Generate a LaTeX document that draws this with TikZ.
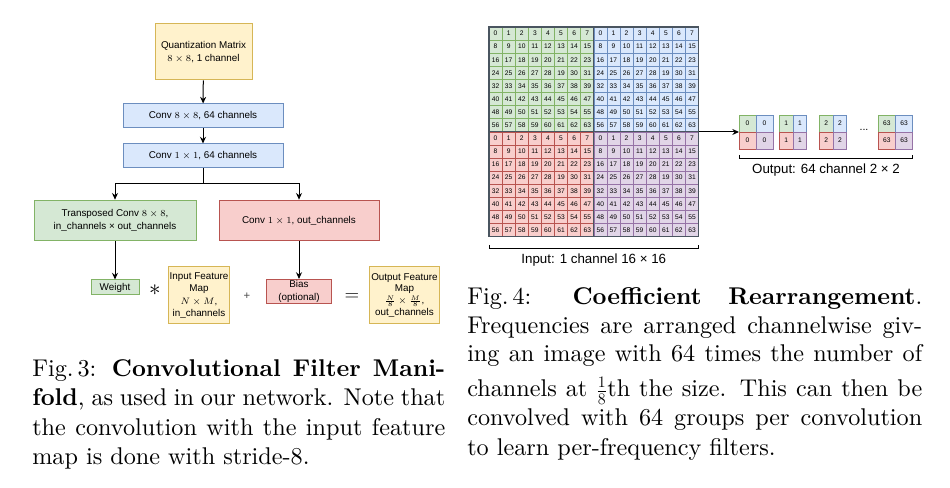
\documentclass[tikz,border=0pt]{standalone}
\usepackage{fontspec}
\setmainfont{lmroman10-regular.otf}[BoldFont=lmroman10-bold.otf, ItalicFont=lmroman10-italic.otf, BoldItalicFont=lmroman10-bolditalic.otf]
\setsansfont{Liberation Sans}
\usetikzlibrary{arrows.meta}
\definecolor{yfill}{HTML}{FFF2CC}\definecolor{yline}{HTML}{D6B656}
\definecolor{bfill}{HTML}{DAE8FC}\definecolor{bline}{HTML}{6C8EBF}
\definecolor{gfill}{HTML}{D5E8D4}\definecolor{gline}{HTML}{82B366}
\definecolor{rfill}{HTML}{F8CECC}\definecolor{rline}{HTML}{B85450}
\definecolor{pfill}{HTML}{E1D5E7}\definecolor{pline}{HTML}{9673A6}
\definecolor{quadline}{HTML}{4A5560}
\newcommand{\capfont}{\fontsize{18.15}{21.8}\selectfont}
\begin{document}
\begin{tikzpicture}[x=0.75pt,y=-0.75pt,
  box/.style={draw, line width=0.75pt, align=center, inner sep=1pt,
    font=\sffamily\fontsize{7.4}{9.2}\selectfont},
  ybox/.style={box, fill=yfill, draw=yline},
  bbox/.style={box, fill=bfill, draw=bline},
  gbox/.style={box, fill=gfill, draw=gline},
  rbox/.style={box, fill=rfill, draw=rline},
  arr/.style={line width=0.75pt, -{Stealth[length=5pt,width=4.5pt]}},
  conn/.style={line width=0.75pt},
  gcell/.style={draw, line width=0.4pt, minimum width=9.825pt, minimum height=9.825pt,
    inner sep=0pt, font=\sffamily\fontsize{5}{6}\selectfont},
  ocell/.style={draw, line width=0.5pt, minimum height=12.75pt,
    inner sep=0pt, font=\sffamily\fontsize{5}{6}\selectfont},
  lbl/.style={inner sep=0pt, font=\sffamily\fontsize{10}{12}\selectfont},
  capl/.style={anchor=base west, inner sep=0pt, font=\capfont},
  brk/.style={line width=0.6pt}
]
\useasboundingbox (0,0) rectangle (950,488);

% ---------------- left diagram ----------------
\node[ybox, minimum width=72.75pt, minimum height=42pt] (quant) at (203.5,52)
  {Quantization Matrix\\$8\times 8$, 1 channel};
\node[bbox, minimum width=120pt, minimum height=18pt] (conv8) at (203,116)
  {Conv $8\times 8$, 64 channels};
\node[bbox, minimum width=120pt, minimum height=18pt] (conv1) at (203,156)
  {Conv $1\times 1$, 64 channels};
\node[gbox, minimum width=121.5pt, minimum height=30.5pt] (tconv) at (115,220.5)
  {Transposed Conv $8\times 8$,\\in\_channels × out\_channels};
\node[rbox, minimum width=120pt, minimum height=30.5pt] (c1out) at (299,220.5)
  {Conv $1\times 1$, out\_channels};
\node[gbox, minimum width=36pt, minimum height=11.25pt] (weight) at (115,287.5) {Weight};
\node[ybox, minimum width=45pt, minimum height=42.75pt] (ifm) at (199,295.5)
  {Input Feature\\Map\\$N\times M$,\\in\_channels};
\node[rbox, minimum width=48.75pt, minimum height=17.25pt] (bias) at (299,291.5)
  {Bias\\(optional)};
\node[ybox, minimum width=51.75pt, minimum height=42.75pt, font=\sffamily\fontsize{7.4}{8.6}\selectfont] (ofm) at (404.5,295.5)
  {Output Feature\\Map\\[0.5pt]$\frac{N}{8}\times\frac{M}{8}$,\\[0.5pt]out\_channels};
\node[inner sep=0pt, font=\fontsize{16}{16}\selectfont] (star) at (155,290) {$\ast$};
\node[inner sep=0pt, text=black!70, font=\sffamily\fontsize{8.5}{9}\selectfont] (plus) at (247,296.5) {+};
\node[inner sep=0pt, font=\fontsize{15}{15}\selectfont] (eq) at (352,297) {$=$};

\coordinate (split) at (203,184);
\draw[arr] (quant) -- (conv8);
\draw[arr] (conv8) -- (conv1);
\draw[conn] (conv1.south) -- (split);
\draw[arr] (split) -| (tconv.north);
\draw[arr] (split) -| (c1out.north);
\draw[arr] (tconv) -- (weight);
\draw[arr] (c1out) -- (bias);

% ---------------- right diagram: input grid ----------------
\foreach \qx/\qy/\fc/\dc in {0/0/gfill/gline, 1/0/bfill/bline, 0/1/rfill/rline, 1/1/pfill/pline} {
  \foreach \r in {0,...,7} {
    \foreach \c in {0,...,7} {
      \pgfmathtruncatemacro\cellval{\r*8+\c}
      \ifnum\cellval=29 \def\cellval{19}\fi
      \node[gcell, fill=\fc, draw=\dc] (g\qx\qy-\r-\c)
        at ({489+(\qx*8+\c+0.5)*13.1},{27+(\qy*8+\r+0.5)*13.1}) {\cellval};
    }
  }
}
\foreach \qx/\qy in {0/0,1/0,0/1,1/1} {
  \draw[line width=0.8pt, draw=quadline] ({489+\qx*104.8},{27+\qy*104.8}) rectangle ++(104.8,104.8);
}

% ---------------- output blocks ----------------
\foreach \i/\x/\w/\val in {0/739/17/0, 1/779.3/13.7/1, 2/819.3/13.7/2, 3/878.3/17.2/63} {
  \pgfmathsetmacro\cw{\w*0.75}
  \node[ocell, minimum width=\cw pt, fill=gfill, draw=gline] (o\i-tl) at ({\x+0.5*\w},123.5) {\val};
  \node[ocell, minimum width=\cw pt, fill=bfill, draw=bline] (o\i-tr) at ({\x+1.5*\w},123.5) {\val};
  \node[ocell, minimum width=\cw pt, fill=rfill, draw=rline] (o\i-bl) at ({\x+0.5*\w},140.5) {\val};
  \node[ocell, minimum width=\cw pt, fill=pfill, draw=pline] (o\i-br) at ({\x+1.5*\w},140.5) {\val};
}
\node[inner sep=0pt, font=\sffamily\fontsize{8}{9}\selectfont] (dots) at (864,130) {...};

\coordinate (gridR) at (698.6,132);
\coordinate (blkL) at (739,132);
\draw[arr] (gridR) -- (blkL);

% brackets and labels
\coordinate (ib1) at (489,245); \coordinate (ib2) at (698.6,245);
\draw[brk] (ib1) -- ++(0,3.5) -| (ib2);
\node[lbl] (inlbl) at (593.8,260) {Input: 1 channel 16 × 16};
\coordinate (ob1) at (739,155); \coordinate (ob2) at (912.7,155);
\draw[brk] (ob1) -- ++(0,3.5) -| (ob2);
\node[lbl] (outlbl) at (826,170) {Output: 64 channel 2 × 2};

% ---------------- captions ----------------
\node[capl] (l1) at (32,377) {\makebox[309.75pt][s]{Fig.\,3: \textbf{Convolutional Filter Mani-}}};
\node[capl] (l2) at (32,406) {\makebox[309.75pt][s]{\textbf{fold}, as used in our network. Note that}};
\node[capl] (l3) at (32,435) {\makebox[309.75pt][s]{the convolution with the input feature}};
\node[capl] (l4) at (32,464) {map is done with stride-8.};

\node[capl] (r1) at (467,305) {\makebox[341.25pt][s]{Fig.\,4: \textbf{Coefficient Rearrangement}.}};
\node[capl] (r2) at (467,334) {\makebox[341.25pt][s]{Frequencies are arranged channelwise giv-}};
\node[capl] (r3) at (467,362) {\makebox[341.25pt][s]{ing an image with 64 times the number of}};
\node[capl] (r4) at (467,397) {\makebox[341.25pt][s]{channels at $\frac{1}{8}$th the size. This can then be}};
\node[capl] (r5) at (467,426) {\makebox[341.25pt][s]{convolved with 64 groups per convolution}};
\node[capl] (r6) at (467,455) {to learn per-frequency filters.};
\end{tikzpicture}
\end{document}
